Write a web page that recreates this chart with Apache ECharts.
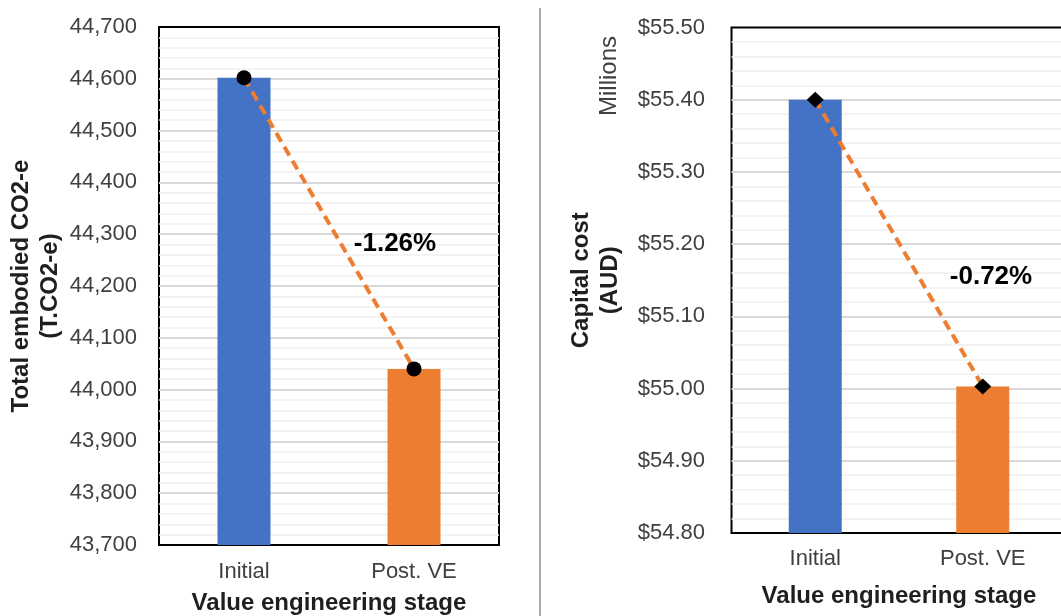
<!DOCTYPE html>
<html>
<head>
<meta charset="utf-8">
<script src="https://cdn.jsdelivr.net/npm/echarts@6/dist/echarts.min.js"></script>
<style>
  html, body { margin: 0; padding: 0; background: #ffffff; }
  #chart { width: 1061px; height: 616px; }
</style>
</head>
<body>
<div id="chart"></div>
<script>
// Value engineering stages shown on both panels
const stages = ['Initial', 'Post. VE'];
const stageColors = ['#4472C4', '#ED7D31'];

// Left panel: total embodied carbon (tonnes CO2-e)
const carbonValues = [44602, 44040];
const carbonTicks = { min: 43700, max: 44700, step: 100 };

// Right panel: capital cost (AUD, millions)
const costValues = [55.40, 55.003];
const costTicks = { min: 54.8, max: 55.5, step: 0.1 };

const FONT = '"Liberation Sans", Arial, Helvetica, sans-serif';
const TICK_COLOR = '#404040';
const TITLE_COLOR = '#1f1f1f';

function pctChange(vals) {
  return ((vals[1] - vals[0]) / vals[0] * 100).toFixed(2) + '%';
}

function valueAxis(gridIndex, ticks, formatter, name, nameGap, labelMargin) {
  return {
    type: 'value',
    gridIndex: gridIndex,
    min: ticks.min,
    max: ticks.max,
    interval: ticks.step,
    name: name,
    nameLocation: 'middle',
    nameRotate: 90,
    nameGap: nameGap,
    nameTextStyle: {
      fontFamily: FONT, fontSize: 24, fontWeight: 'bold',
      color: TITLE_COLOR, lineHeight: 29, align: 'center'
    },
    axisLine: { show: false },
    axisTick: { show: false },
    axisLabel: {
      formatter: formatter, margin: labelMargin,
      fontFamily: FONT, fontSize: 22, color: TICK_COLOR
    },
    splitLine: {
      show: true, showMinLine: false, showMaxLine: false,
      lineStyle: { color: '#d9d9d9', width: 2 }
    },
    minorTick: { show: false, splitNumber: 5 },
    minorSplitLine: { show: true, lineStyle: { color: '#efefef', width: 1.5 } }
  };
}

function categoryAxis(gridIndex, labelMargin, nameGap) {
  return {
    type: 'category',
    gridIndex: gridIndex,
    data: stages,
    boundaryGap: true,
    name: 'Value engineering stage',
    nameLocation: 'middle',
    nameGap: nameGap,
    nameTextStyle: {
      fontFamily: FONT, fontSize: 24, fontWeight: 'bold', color: TITLE_COLOR
    },
    axisLine: { show: false },
    axisTick: { show: false },
    axisLabel: { margin: labelMargin, fontFamily: FONT, fontSize: 22, color: TICK_COLOR },
    splitLine: { show: false }
  };
}

function barSeries(idx, values) {
  return {
    type: 'bar',
    xAxisIndex: idx, yAxisIndex: idx,
    barWidth: 53,
    data: values.map((v, i) => ({ value: v, itemStyle: { color: stageColors[i] } })),
    silent: true
  };
}

function trendSeries(idx, values, symbol, size) {
  return {
    type: 'line',
    xAxisIndex: idx, yAxisIndex: idx,
    z: 3,
    data: values,
    symbol: symbol,
    symbolSize: size,
    showAllSymbol: true,
    itemStyle: { color: '#000000', borderWidth: 0 },
    lineStyle: { color: '#ED7D31', width: 4, type: [10, 6] },
    silent: true
  };
}

const chart = echarts.init(document.getElementById('chart'), null, { renderer: 'canvas' });

chart.setOption({
  animation: false,
  backgroundColor: '#ffffff',
  grid: [
    { left: 159, top: 27, width: 340, height: 518, show: true, outerBoundsMode: 'none',
      borderColor: '#000000', borderWidth: 2, backgroundColor: 'transparent', containLabel: false },
    { left: 731.5, top: 27.5, width: 335, height: 505.5, show: true, outerBoundsMode: 'none',
      borderColor: '#000000', borderWidth: 2, backgroundColor: 'transparent', containLabel: false }
  ],
  xAxis: [categoryAxis(0, 16, 46), categoryAxis(1, 15, 51)],
  yAxis: [
    valueAxis(0, carbonTicks, v => v.toLocaleString('en-US'),
      'Total embodied CO2-e\n(T.CO2-e)', 94, 22),
    valueAxis(1, costTicks, v => '$' + v.toFixed(2),
      'Capital cost\n(AUD)', 107, 26.5)
  ],
  series: [
    barSeries(0, carbonValues),
    trendSeries(0, carbonValues, 'circle', 15),
    barSeries(1, costValues),
    trendSeries(1, costValues, 'diamond', [17, 16])
  ],
  graphic: [
    // divider between the two panels
    { type: 'line', z: 100, shape: { x1: 540, y1: 8, x2: 540, y2: 616 },
      style: { stroke: '#8c8c8c', lineWidth: 1.5 }, silent: true },
    // display-unit caption for the cost axis
    { type: 'text', z: 100, x: 609, y: 76, rotation: Math.PI / 2,
      style: { text: 'Millions', fontFamily: FONT, fontSize: 24, fill: TICK_COLOR,
               align: 'center', verticalAlign: 'middle' }, silent: true },
    // percentage change annotations
    { type: 'text', z: 100, x: 395, y: 244,
      style: { text: pctChange(carbonValues), fontFamily: FONT, fontSize: 26, fontWeight: 'bold',
               fill: '#000000', align: 'center', verticalAlign: 'middle' }, silent: true },
    { type: 'text', z: 100, x: 991, y: 277,
      style: { text: pctChange(costValues), fontFamily: FONT, fontSize: 26, fontWeight: 'bold',
               fill: '#000000', align: 'center', verticalAlign: 'middle' }, silent: true }
  ]
});
</script>
</body>
</html>
